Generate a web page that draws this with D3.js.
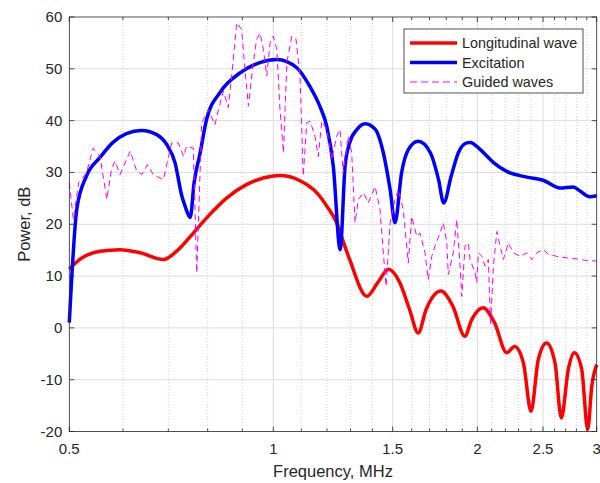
<!DOCTYPE html>
<html>
<head>
<meta charset="utf-8">
<script src="https://cdn.jsdelivr.net/npm/d3@7"></script>
<style>
  body { margin: 0; background: #fff; }
  text { font-family: "Liberation Sans", Arial, sans-serif; fill: #262626; }
</style>
</head>
<body>
<div id="chart"></div>
<script>
// spectra: frequency in MHz, power in dB

// Longitudinal wave
var longF = [0.5, 0.518, 0.555, 0.594, 0.636, 0.688, 0.72, 0.762, 0.806, 0.854, 0.914, 1.0, 1.023, 1.095, 1.146,
  1.171, 1.199, 1.24, 1.27, 1.296, 1.374, 1.425, 1.479, 1.537, 1.589, 1.636, 1.68, 1.767, 1.84, 1.917, 1.962,
  2.04, 2.12, 2.21, 2.27, 2.339, 2.40, 2.46, 2.53, 2.604, 2.66, 2.724, 2.78, 2.851, 2.91, 2.95, 3.0];
var longP = [11.3, 13.2, 14.8, 15.1, 14.5, 13.2, 14.8, 18.3, 21.9, 25.1, 27.7, 29.3, 29.4, 28.4, 26.7,
  25.4, 23.5, 20.3, 16.4, 13.2, 6.1, 8.7, 11.3, 8.7, 3.5, -1.0, 3.5, 7.1, 4.2, -1.6, 1.6,
  3.9, 1.0, -4.8, -3.6, -6.8, -16.1, -6.1, -2.9, -6.8, -17.4, -8.0, -4.8, -8.0, -19.6, -11.3, -7.1];

// Excitation
var excF = [0.5, 0.513, 0.530, 0.555, 0.580, 0.607, 0.639, 0.673, 0.696, 0.716, 0.733, 0.741, 0.754, 0.764,
  0.780, 0.797, 0.834, 0.893, 0.955, 1.012, 1.083, 1.132, 1.171, 1.199, 1.226, 1.255, 1.276, 1.296, 1.329,
  1.366, 1.414, 1.453, 1.487, 1.512, 1.546, 1.582, 1.636, 1.705, 1.753, 1.784, 1.83, 1.875, 1.929, 1.952,
  2.02, 2.113, 2.21, 2.365, 2.5, 2.65, 2.77, 2.835, 2.93, 3.0];
var excP = [1, 23, 29.3, 32.9, 35.8, 37.5, 38.1, 37.3, 35.4, 31.9, 25.4, 23.5, 21.3, 28,
  33.8, 40.2, 45.4, 49.2, 51.2, 51.8, 50.2, 46.6, 42.8, 38.9, 31.2, 15.1, 31.2, 35.7, 38.3,
  39.4, 38.3, 33.8, 26.7, 20.3, 29.9, 34.4, 36.0, 33.8, 28.6, 24.1, 29.3, 33.8, 35.7, 35.8,
  34.4, 31.9, 30.2, 29.1, 28.5, 27.0, 27.2, 26.4, 25.3, 25.5];

// Guided waves
var guidF = [0.5, 0.507, 0.516, 0.530, 0.542, 0.555, 0.568, 0.577, 0.584, 0.594, 0.615, 0.629, 0.640, 0.652,
  0.665, 0.688, 0.708, 0.724, 0.737, 0.745, 0.762, 0.771, 0.784, 0.802, 0.820, 0.830, 0.844, 0.858, 0.868,
  0.883, 0.898, 0.908, 0.919, 0.934, 0.945, 0.956, 0.967, 0.978, 0.989, 1.000, 1.012, 1.023, 1.035, 1.047,
  1.065, 1.080, 1.095, 1.107, 1.120, 1.133, 1.152, 1.165, 1.179, 1.199, 1.220, 1.240, 1.254, 1.268, 1.290,
  1.305, 1.320, 1.335, 1.358, 1.381, 1.413, 1.437, 1.453, 1.467, 1.487, 1.512, 1.529, 1.555, 1.582, 1.600,
  1.628, 1.646, 1.674, 1.693, 1.713, 1.732, 1.762, 1.782, 1.803, 1.812, 1.843, 1.865, 1.886, 1.897, 1.918,
  1.940, 1.951, 1.985, 1.996, 2.007, 2.030, 2.053, 2.076, 2.092, 2.112, 2.137, 2.161, 2.185, 2.222, 2.260,
  2.313, 2.366, 2.407, 2.448, 2.504, 2.546, 2.620, 2.711, 2.804, 2.901, 3.0];
var guidP = [28.0, 20.9, 28, 29.9, 34.7, 33.1, 24.8, 30.6, 32.2, 29.6, 34.1, 30.2, 29.6, 31.5,
  29.6, 28.6, 35.7, 35.7, 33.1, 35.1, 34.7, 10.6, 39.6, 42.1, 39.2, 42.1, 45.7, 42.5, 48.6,
  58.9, 57.6, 49.9, 42.8, 51.2, 55.7, 56.9, 53.7, 48.6, 55.0, 56.3, 53.7, 42.1, 33.8, 51.2,
  56.3, 55.7, 48.6, 29.3, 39.6, 39.9, 37.0, 33.1, 39.9, 38.3, 32.5, 37.0, 38.3, 29.9, 37.0,
  33.8, 20.3, 24.8, 26.1, 24.1, 27.3, 22.8, 14.5, 8.0, 20.3, 24.8, 26.7, 22.8, 12.5, 21.5,
  17.7, 18.3, 14.5, 9.3, 13.8, 15.8, 18.3, 20.3, 16.4, 10.3, 14.5, 20.9, 11.9, 6.1, 15.8,
  16.4, 13.2, 10.6, 8.7, 14.5, 13.8, 11.9, 13.2, 0.5, 11.9, 18.6, 15.8, 13.2, 16.4, 14.5,
  13.8, 14.5, 13.2, 14.5, 15.1, 14.2, 13.8, 13.5, 13.3, 13.0, 12.9];

var xTicks = [0.5, 1, 1.5, 2, 2.5, 3];
var yTicks = [-20, -10, 0, 10, 20, 30, 40, 50, 60];
var seriesNames = ["Longitudinal wave", "Excitation", "Guided waves"];

var W = 600, H = 483;
var pLeft = 69.3, pRight = 596.7, pTop = 17, pBottom = 431.5;

var svg = d3.select("#chart").append("svg")
    .attr("width", W)
    .attr("height", H)
    .style("background", "#fff");

var x = d3.scaleLog().domain([0.5, 3]).range([pLeft, pRight]);
var y = d3.scaleLinear().domain([-20, 60]).range([pBottom, pTop]);

// minor x positions every 0.1 MHz
var minorX = d3.range(5, 31).map(function (i) { return i / 10; })
    .filter(function (v) { return xTicks.indexOf(v) < 0; });

// grid
var grid = svg.append("g");
grid.selectAll(".mg").data(minorX).join("line")
    .attr("x1", d => x(d)).attr("x2", d => x(d))
    .attr("y1", pTop).attr("y2", pBottom)
    .attr("stroke", "#c8c8c8").attr("stroke-width", 0.8)
    .attr("stroke-dasharray", "1,2");
grid.selectAll(".xg").data(xTicks.slice(1, -1)).join("line")
    .attr("x1", d => x(d)).attr("x2", d => x(d))
    .attr("y1", pTop).attr("y2", pBottom)
    .attr("stroke", "#dcdcdc").attr("stroke-width", 1);
grid.selectAll(".yg").data(yTicks.slice(1, -1)).join("line")
    .attr("x1", pLeft).attr("x2", pRight)
    .attr("y1", d => y(d)).attr("y2", d => y(d))
    .attr("stroke", "#dcdcdc").attr("stroke-width", 1);

// lines
function pts(f, p) { return f.map(function (v, i) { return [v, p[i]]; }); }
var line = d3.line().x(d => x(d[0])).y(d => y(d[1]));
var smooth = d3.line().x(d => x(d[0])).y(d => y(d[1])).curve(d3.curveMonotoneX);

var plot = svg.append("g");
plot.append("path").datum(pts(longF, longP))
    .attr("d", smooth).attr("fill", "none")
    .attr("stroke", "#ff0000").attr("stroke-width", 3.5).attr("stroke-linejoin", "round");
plot.append("path").datum(pts(excF, excP))
    .attr("d", smooth).attr("fill", "none")
    .attr("stroke", "#0000ff").attr("stroke-width", 3.5).attr("stroke-linejoin", "round");
plot.append("path").datum(pts(guidF, guidP))
    .attr("d", line).attr("fill", "none")
    .attr("stroke", "#ff00ff").attr("stroke-width", 1)
    .attr("stroke-dasharray", "6,4");

// axes box + ticks (inward, on all four sides)
var ax = svg.append("g").attr("stroke", "#262626").attr("stroke-width", 0.8);
ax.append("rect").attr("x", pLeft).attr("y", pTop)
    .attr("width", pRight - pLeft).attr("height", pBottom - pTop).attr("fill", "none");
xTicks.forEach(function (t) {
    ax.append("line").attr("x1", x(t)).attr("x2", x(t)).attr("y1", pBottom).attr("y2", pBottom - 5);
    ax.append("line").attr("x1", x(t)).attr("x2", x(t)).attr("y1", pTop).attr("y2", pTop + 5);
});
minorX.forEach(function (t) {
    ax.append("line").attr("x1", x(t)).attr("x2", x(t)).attr("y1", pBottom).attr("y2", pBottom - 3);
    ax.append("line").attr("x1", x(t)).attr("x2", x(t)).attr("y1", pTop).attr("y2", pTop + 3);
});
yTicks.forEach(function (t) {
    ax.append("line").attr("x1", pLeft).attr("x2", pLeft + 5).attr("y1", y(t)).attr("y2", y(t));
    ax.append("line").attr("x1", pRight).attr("x2", pRight - 5).attr("y1", y(t)).attr("y2", y(t));
});

// tick labels
svg.append("g").selectAll("text").data(xTicks).join("text")
    .attr("x", d => x(d)).attr("y", pBottom + 22)
    .attr("text-anchor", "middle").attr("font-size", 15)
    .text(d => d);
svg.append("g").selectAll("text").data(yTicks).join("text")
    .attr("x", pLeft - 7).attr("y", d => y(d) + 5)
    .attr("text-anchor", "end").attr("font-size", 15)
    .text(d => d);

// axis labels
svg.append("text").attr("x", (pLeft + pRight) / 2).attr("y", 477)
    .attr("text-anchor", "middle").attr("font-size", 16.5)
    .text("Frequency, MHz");
svg.append("text")
    .attr("transform", "translate(30," + ((pTop + pBottom) / 2) + ") rotate(-90)")
    .attr("text-anchor", "middle").attr("font-size", 16.5)
    .text("Power, dB");

// legend
var lg = svg.append("g");
lg.append("rect").attr("x", 404).attr("y", 29).attr("width", 179).attr("height", 64)
    .attr("fill", "#fff").attr("stroke", "#262626").attr("stroke-width", 0.8);
var legStyle = [
    { c: "#ff0000", w: 3.5, dash: null },
    { c: "#0000ff", w: 3.5, dash: null },
    { c: "#ff00ff", w: 1, dash: "7,4" }
];
seriesNames.forEach(function (name, i) {
    var yy = 43 + i * 19.5;
    lg.append("line").attr("x1", 410).attr("x2", 457).attr("y1", yy).attr("y2", yy)
        .attr("stroke", legStyle[i].c).attr("stroke-width", legStyle[i].w)
        .attr("stroke-dasharray", legStyle[i].dash);
    lg.append("text").attr("x", 462).attr("y", yy + 5).attr("font-size", 14.4).text(name);
});
</script>
</body>
</html>
